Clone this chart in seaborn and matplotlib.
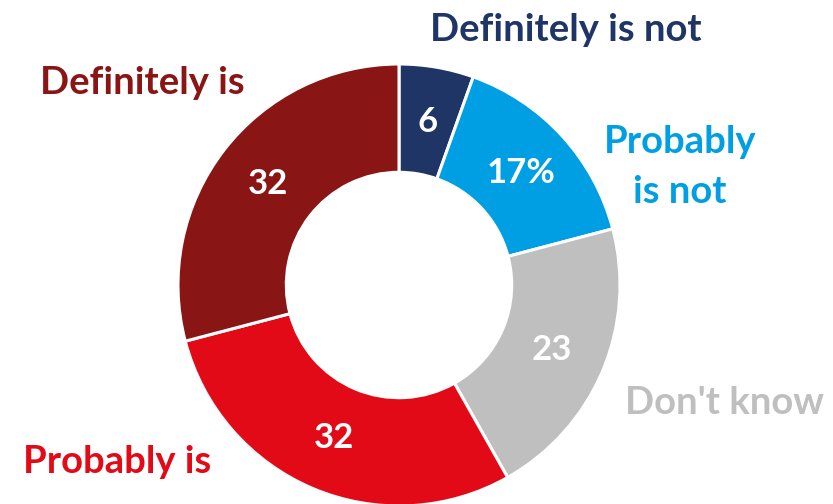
import matplotlib
matplotlib.use("Agg")
import matplotlib.pyplot as plt
import seaborn as sns

# Survey responses, clockwise from the top of the ring
categories = ["Definitely is not", "Probably is not", "Don't know", "Probably is", "Definitely is"]
values = [6, 17, 23, 32, 32]
value_labels = ["6", "17%", "23", "32", "32"]
colors = ["#1F3566", "#009FE3", "#BFBFBF", "#E20A17", "#8A1515"]

sns.set_theme(style="white")
plt.rcParams["font.family"] = ["Lato", "DejaVu Sans"]

W, H = 833, 504
fig = plt.figure(figsize=(W / 100, H / 100), dpi=100)
ax = fig.add_axes([0, 0, 1, 1])

cx, cy, r = 399, H - 285, 221
wedges, texts = ax.pie(
    values,
    labels=value_labels,
    colors=sns.color_palette(colors),
    startangle=90,
    counterclock=False,
    center=(cx, cy),
    radius=r,
    labeldistance=0.75,
    wedgeprops=dict(width=r * 0.49, edgecolor="white", linewidth=2.2),
    frame=True,
)
ax.set_xlim(0, W)
ax.set_ylim(0, H)
ax.set_aspect("equal")
ax.axis("off")
for t in texts:
    t.set_ha("center")
    t.set_va("center")
    t.set_color("white")
    t.set_fontsize(25)
    t.set_fontweight("bold")

# Category names around the ring
label_pos = {
    "Definitely is not": (566, 30),
    "Probably is not": (680, 167),
    "Don't know": (725, 403),
    "Probably is": (117, 462),
    "Definitely is": (142, 83),
}
for name, col in zip(categories, colors):
    x, y = label_pos[name]
    text = "Probably\nis not" if name == "Probably is not" else name
    ax.text(x, H - y, text, ha="center", va="center", color=col,
            fontsize=27.5, fontweight="bold", linespacing=1.55)

fig.savefig("out.png", dpi=100, facecolor="white")
